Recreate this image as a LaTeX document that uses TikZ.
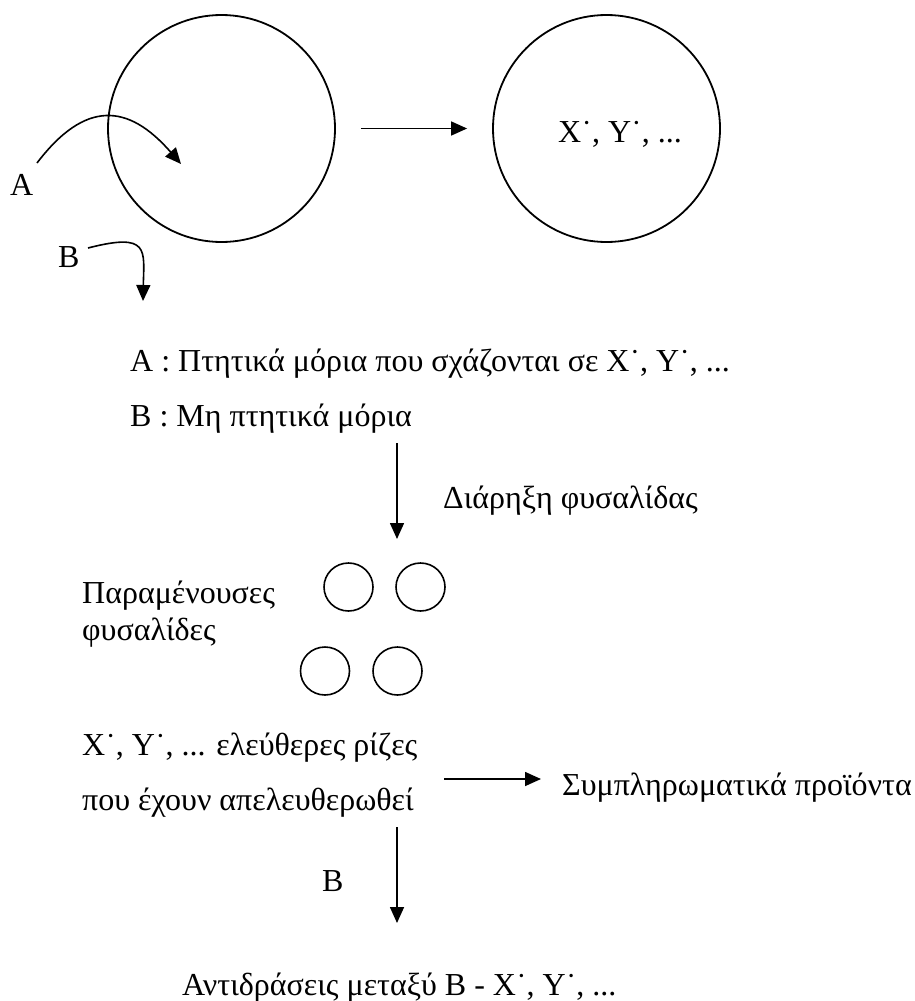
\documentclass[tikz,border=0pt]{standalone}
\usepackage{fontspec}
\setmainfont{Liberation Serif}
\usetikzlibrary{arrows.meta,shapes.geometric}
\begin{document}
\begin{tikzpicture}[x=1pt,y=-1pt,
  lbl/.style={anchor=base west,inner sep=0pt,font=\fontsize{32pt}{38pt}\selectfont},
  bigc/.style={draw,circle,line width=1.8pt,minimum size=227pt,inner sep=0pt},
  smallc/.style={draw,ellipse,line width=1.6pt,minimum width=49pt,minimum height=48pt,inner sep=0pt},
  arr/.style={line width=1.6pt,-{Triangle[length=16pt,width=14pt]}}]
\useasboundingbox (0,0) rectangle (914,1001);
% top circles
\node[bigc] (c1) at (221.5,128.5) {};
\node[bigc] (c2) at (606.5,128.5) {};
\node[anchor=base,inner sep=0pt,font=\fontsize{32pt}{38pt}\selectfont] (xy) at (620,142) {X˙, Y˙, ...};
\draw[arr,shorten <=25pt,shorten >=25pt] (c1) -- (c2);
% A and B labels
\node[lbl] (la) at (10,195) {A};
\node[lbl] (lb) at (58,267) {B};
\coordinate (as) at (37,163);
\coordinate (ae) at (181,164);
\draw[arr] (as) .. controls (85,100) and (128,103) .. (ae);
\coordinate (bs) at (88,248);
\coordinate (be) at (143,301);
\draw[arr] (bs) .. controls (150,232) and (144,250) .. (be);
% legend
\node[lbl] (t1) at (130,371) {A : Πτητικά μόρια που σχάζονται σε X˙, Y˙, ...};
\node[lbl] (t2) at (130,426) {B : Μη πτητικά μόρια};
\coordinate (v1s) at (397,443);
\coordinate (v1e) at (397,539);
\draw[arr] (v1s) -- (v1e);
\node[lbl] (t3) at (443,508) {Διάρηξη φυσαλίδας};
% bubbles
\node[lbl] (t4) at (82,603) {Παραμένουσες};
\node[lbl] (t5) at (82,640) {φυσαλίδες};
\node[smallc] (s1) at (348.5,587) {};
\node[smallc] (s2) at (420.5,587) {};
\node[smallc] (s3) at (325,671) {};
\node[smallc] (s4) at (397.5,671) {};
% radicals
\node[lbl] (t6) at (82,755) {X˙, Y˙, ... ελεύθερες ρίζες};
\node[lbl] (t7) at (82,810) {που έχουν απελευθερωθεί};
\node[lbl] (t8) at (562,795) {Συμπληρωματικά προϊόντα};
\coordinate (h2s) at (444,779);
\coordinate (h2e) at (541,779);
\draw[arr] (h2s) -- (h2e);
\coordinate (v2s) at (397,827);
\coordinate (v2e) at (397,923);
\draw[arr] (v2s) -- (v2e);
\node[lbl] (t9) at (322,891) {B};
\node[lbl] (t10) at (182,995) {Αντιδράσεις μεταξύ B - X˙, Y˙, ...};
\end{tikzpicture}
\end{document}
